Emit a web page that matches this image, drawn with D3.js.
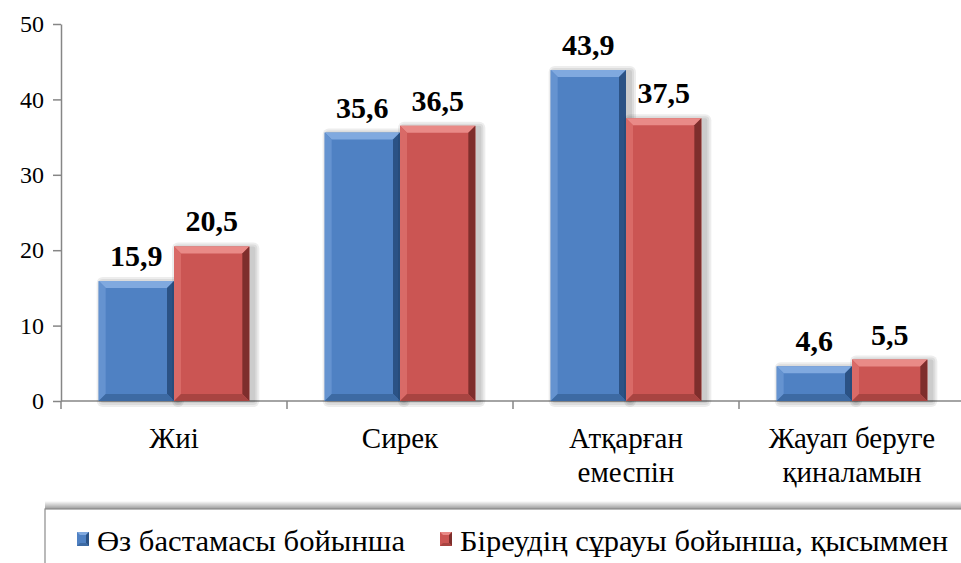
<!DOCTYPE html>
<html>
<head>
<meta charset="utf-8">
<script src="https://cdn.jsdelivr.net/npm/d3@7"></script>
</head>
<body style="margin:0">
<svg id="s" width="961" height="563"></svg>
<script>
// data
var categories = [["Жиі"], ["Сирек"], ["Атқарған", "емеспін"], ["Жауап беруге", "қиналамын"]];
var seriesNames = ["Өз бастамасы бойынша", "Біреудің сұрауы бойынша, қысыммен"];
var ownValues = [15.9, 35.6, 43.9, 4.6];
var otherValues = [20.5, 36.5, 37.5, 5.5];
var yTicks = [0, 10, 20, 30, 40, 50];

var palettes = [
  {face: "#4f81c3", top: "#80a9df", left: "#6593d0", right: "#2b5285", bottom: "#3d6aa3"},
  {face: "#cb5553", top: "#e98a87", left: "#d96a67", right: "#7e2e2c", bottom: "#a84441"}
];

var svg = d3.select("#s");
var margin = {top: 24, left: 61};
var plotRight = 965, plotBottom = 401;

// gradient for the legend's top shadow
var defs = svg.append("defs");
var grad = defs.append("linearGradient").attr("id", "legshade")
  .attr("x1", 0).attr("y1", 0).attr("x2", 0).attr("y2", 1);
grad.append("stop").attr("offset", "0%").attr("stop-color", "#000").attr("stop-opacity", 0);
grad.append("stop").attr("offset", "100%").attr("stop-color", "#000").attr("stop-opacity", 0.4);

var x0 = d3.scaleBand()
  .domain(d3.range(categories.length))
  .range([margin.left, plotRight])
  .padding(0);

var x1 = d3.scaleBand()
  .domain([0, 1])
  .range([0, x0.bandwidth()])
  .paddingInner(0)
  .paddingOuter(0.5);

var y = d3.scaleLinear().domain([0, 50]).range([plotBottom, margin.top]);

// y axis
var yAxis = svg.append("g")
  .attr("transform", "translate(" + margin.left + ",0)")
  .call(d3.axisLeft(y).tickValues(yTicks).tickSize(8).tickPadding(9).tickSizeOuter(0));
yAxis.attr("font-family", null).attr("font-size", null);
yAxis.select(".domain").attr("stroke", "#868686").attr("stroke-width", 1.5);
yAxis.selectAll(".tick line").attr("stroke", "#868686").attr("stroke-width", 1.5);
yAxis.selectAll(".tick text").attr("fill", "#000").style("font-size", "24px");

// x axis with ticks at category boundaries
var xg = svg.append("g").attr("transform", "translate(0," + plotBottom + ")");
xg.append("line").attr("x1", margin.left).attr("x2", plotRight)
  .attr("stroke", "#868686").attr("stroke-width", 1.5);
xg.selectAll(".xt").data(d3.range(categories.length)).enter().append("line")
  .attr("x1", d => x0(d)).attr("x2", d => x0(d))
  .attr("y1", 0).attr("y2", 8)
  .attr("stroke", "#868686").attr("stroke-width", 1.5);

var labels = xg.selectAll(".cat").data(categories).enter().append("text")
  .attr("text-anchor", "middle")
  .style("font-size", "29px");
labels.each(function(lines, i) {
  var t = d3.select(this);
  lines.forEach(function(l, k) {
    t.append("tspan").attr("x", x0(i) + x0.bandwidth() / 2)
      .attr("y", 47 + k * 34).text(l);
  });
});

// bevelled bar with a soft stacked shadow
function bevelBar(g, bx, by, bw, bh, pal) {
  var b = Math.min(7, bh / 2, bw / 2);
  var X0 = bx, X1 = bx + bw, Y0 = by, Y1 = by + bh;
  var bar = g.append("g");
  [6, 4, 2].forEach(function(s) {
    bar.append("rect").attr("x", X0 + 4 - s).attr("y", Y0 + 2 - s)
      .attr("width", bw + 2 * s).attr("height", Math.max(0, bh + 2 * s - 2))
      .attr("rx", s).attr("fill", "#000").attr("opacity", 0.07);
  });
  bar.append("rect").attr("x", X0).attr("y", Y0).attr("width", bw).attr("height", bh).attr("fill", pal.face);
  var pts = function(a) { return a.map(p => p.join(",")).join(" "); };
  bar.append("polygon").attr("fill", pal.top)
    .attr("points", pts([[X0, Y0], [X1, Y0], [X1 - b, Y0 + b], [X0 + b, Y0 + b]]));
  bar.append("polygon").attr("fill", pal.left)
    .attr("points", pts([[X0, Y0], [X0 + b, Y0 + b], [X0 + b, Y1 - b], [X0, Y1]]));
  bar.append("polygon").attr("fill", pal.right)
    .attr("points", pts([[X1, Y0], [X1, Y1], [X1 - b, Y1 - b], [X1 - b, Y0 + b]]));
  bar.append("polygon").attr("fill", pal.bottom)
    .attr("points", pts([[X0, Y1], [X0 + b, Y1 - b], [X1 - b, Y1 - b], [X1, Y1]]));
}

var series = [ownValues, otherValues];
var barsG = svg.append("g");
categories.forEach(function(c, i) {
  series.forEach(function(vals, s) {
    var v = vals[i];
    var bx = x0(i) + x1(s);
    bevelBar(barsG, bx, y(v), x1.bandwidth(), y(0) - y(v), palettes[s]);
  });
});

// value labels
categories.forEach(function(c, i) {
  series.forEach(function(vals, s) {
    var v = vals[i];
    svg.append("text")
      .attr("x", x0(i) + x1(s) + x1.bandwidth() / 2)
      .attr("y", y(v) - 15)
      .attr("text-anchor", "middle")
      .style("font-size", "30px").style("font-weight", "bold")
      .text(String(v).replace(".", ","));
  });
});

// legend
var leg = svg.append("g");
leg.append("rect").attr("x", 45).attr("y", 501).attr("width", 940).attr("height", 8)
  .attr("fill", "url(#legshade)");
leg.append("rect").attr("x", 45).attr("y", 509).attr("width", 940).attr("height", 80)
  .attr("fill", "#fff").attr("stroke", "#8c8c8c").attr("stroke-width", 1.2);
var legX = [77, 440];
var legLen = [308, 488];
seriesNames.forEach(function(name, s) {
  var gx = legX[s], pal = palettes[s];
  var m = leg.append("g");
  var mx0 = gx, mx1 = gx + 12, my0 = 532, my1 = 546, b = 3;
  m.append("rect").attr("x", mx0).attr("y", my0).attr("width", 12).attr("height", 14).attr("fill", pal.face);
  m.append("polygon").attr("fill", pal.top)
    .attr("points", [[mx0, my0], [mx1, my0], [mx1 - b, my0 + b], [mx0 + b, my0 + b]].join(" "));
  m.append("polygon").attr("fill", pal.right)
    .attr("points", [[mx1, my0], [mx1, my1], [mx1 - b, my1 - b], [mx1 - b, my0 + b]].join(" "));
  m.append("polygon").attr("fill", pal.bottom)
    .attr("points", [[mx0, my1], [mx0 + b, my1 - b], [mx1 - b, my1 - b], [mx1, my1]].join(" "));
  leg.append("text").attr("x", gx + 20).attr("y", 551)
    .attr("textLength", legLen[s]).attr("lengthAdjust", "spacingAndGlyphs")
    .style("font-size", "30px").text(name);
});

// one serif face for every text
svg.selectAll("text").style("font-family", "'Tinos'");
</script>
</body>
</html>
